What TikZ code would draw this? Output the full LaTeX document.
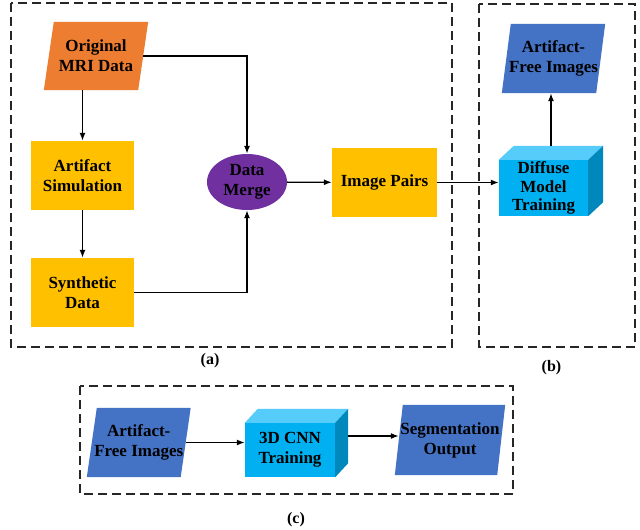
\documentclass[tikz,border=0pt]{standalone}
\usepackage{fontspec}
\setmainfont{Liberation Serif}
\usetikzlibrary{arrows.meta,shapes.geometric,backgrounds}
\definecolor{orangeC}{HTML}{ED7D31}
\definecolor{goldC}{HTML}{FFC000}
\definecolor{purpleC}{HTML}{7030A0}
\definecolor{blueC}{HTML}{4472C4}
\definecolor{cubeFront}{HTML}{00B0F0}
\definecolor{cubeTop}{HTML}{55CCFA}
\definecolor{cubeSide}{HTML}{0088BC}
\tikzset{
  txt/.style={font=\fontsize{17}{20}\selectfont\bfseries, align=center, text=black, inner sep=0pt},
  goldbox/.style={txt, fill=goldC},
  frame/.style={draw=black!85, line width=1.3pt, dash pattern=on 9pt off 5pt},
  arr/.style={draw=black, line width=1.3pt, -{Latex[length=8pt,width=6pt]}},
  lbl/.style={font=\fontsize{16}{18}\selectfont\bfseries},
}
\newcommand{\parafill}[3]{% color, node, slant
  \fill[#1] ([xshift=#3pt]#2.north west) -- ([xshift=#3pt]#2.north east) -- ([xshift=-#3pt]#2.south east) -- ([xshift=-#3pt]#2.south west) -- cycle;}
\newcommand{\cubefill}[3]{% node, dx, dy
  \fill[cubeTop] (#1.north west) -- ([shift={(#2,-#3)}]#1.north west) -- ([shift={(#2,-#3)}]#1.north east) -- (#1.north east) -- cycle;
  \fill[cubeSide] (#1.north east) -- ([shift={(#2,-#3)}]#1.north east) -- ([shift={(#2,-#3)}]#1.south east) -- (#1.south east) -- cycle;}
\begin{document}
\begin{tikzpicture}[x=1pt,y=-1pt]
\useasboundingbox (0,0) rectangle (640,530);

% frames
\draw[frame] (11,3) rectangle (452,347);
\draw[frame] (479,4) rectangle (635,347);
\draw[frame] (80,386) rectangle (513,494);
\node[lbl] (la) at (210,361) {(a)};
\node[lbl] (lb) at (551.5,368) {(b)};
\node[lbl] (lc) at (296,520) {(c)};

% (a)
\node[txt, minimum width=94pt, minimum height=68pt] (orig) at (96,56) {Original\\MRI Data};
\node[goldbox, minimum width=103pt, minimum height=69pt] (sim) at (82.5,175.5) {Artifact\\Simulation};
\node[goldbox, minimum width=103pt, minimum height=69pt] (synth) at (82.5,292.5) {Synthetic\\Data};
\node[txt, ellipse, fill=purpleC, minimum width=80pt, minimum height=56pt] (merge) at (247,182) {Data\\Merge};
\node[goldbox, minimum width=105pt, minimum height=69pt] (pairs) at (384.5,182.5) {Image Pairs};

% (b)
\node[txt, fill=cubeFront, minimum width=89pt, minimum height=56pt, font=\fontsize{17}{18.5}\selectfont\bfseries] (diff) at (543.5,188) {Diffuse\\Model\\Training};
\node[txt, minimum width=94pt, minimum height=69pt] (afb) at (553.5,58.5) {Artifact-\\Free Images};

% (c)
\node[txt, minimum width=93.5pt, minimum height=69pt] (afc) at (138.75,442.5) {Artifact-\\Free Images};
\node[txt, fill=cubeFront, minimum width=90pt, minimum height=54pt] (cnn) at (290,450) {3D CNN\\Training};
\node[txt, minimum width=102pt, minimum height=70pt] (seg) at (450,440) {Segmentation\\Output};

\begin{scope}[on background layer]
  \fill[white] (0,0) rectangle (640,530);
  \parafill{orangeC}{orig}{5}
  \parafill{blueC}{afb}{4.5}
  \parafill{blueC}{afc}{5}
  \parafill{blueC}{seg}{4}
  \cubefill{diff}{15}{14}
  \cubefill{cnn}{13}{14}
\end{scope}

\coordinate (difftop) at ([shift={(7.5,-14)}]diff.north);
\coordinate (cnnside) at ([shift={(13,-14)}]cnn.east);

% connectors
\draw[arr] (sim.north |- orig.south) -- (sim.north);
\draw[arr] (sim) -- (synth);
\draw[arr] (orig.east) -| (merge.north);
\draw[arr] (synth.east) -| (merge.south);
\draw[arr] (merge) -- (pairs);
\draw[arr] (pairs.east) -- (diff.west |- pairs.east);
\draw[arr] (difftop) -- (difftop |- afb.south);
\draw[arr] (afc.east) -- (cnn.west |- afc.east);
\draw[arr] (cnnside) -- (seg.west |- cnnside);
\end{tikzpicture}
\end{document}
